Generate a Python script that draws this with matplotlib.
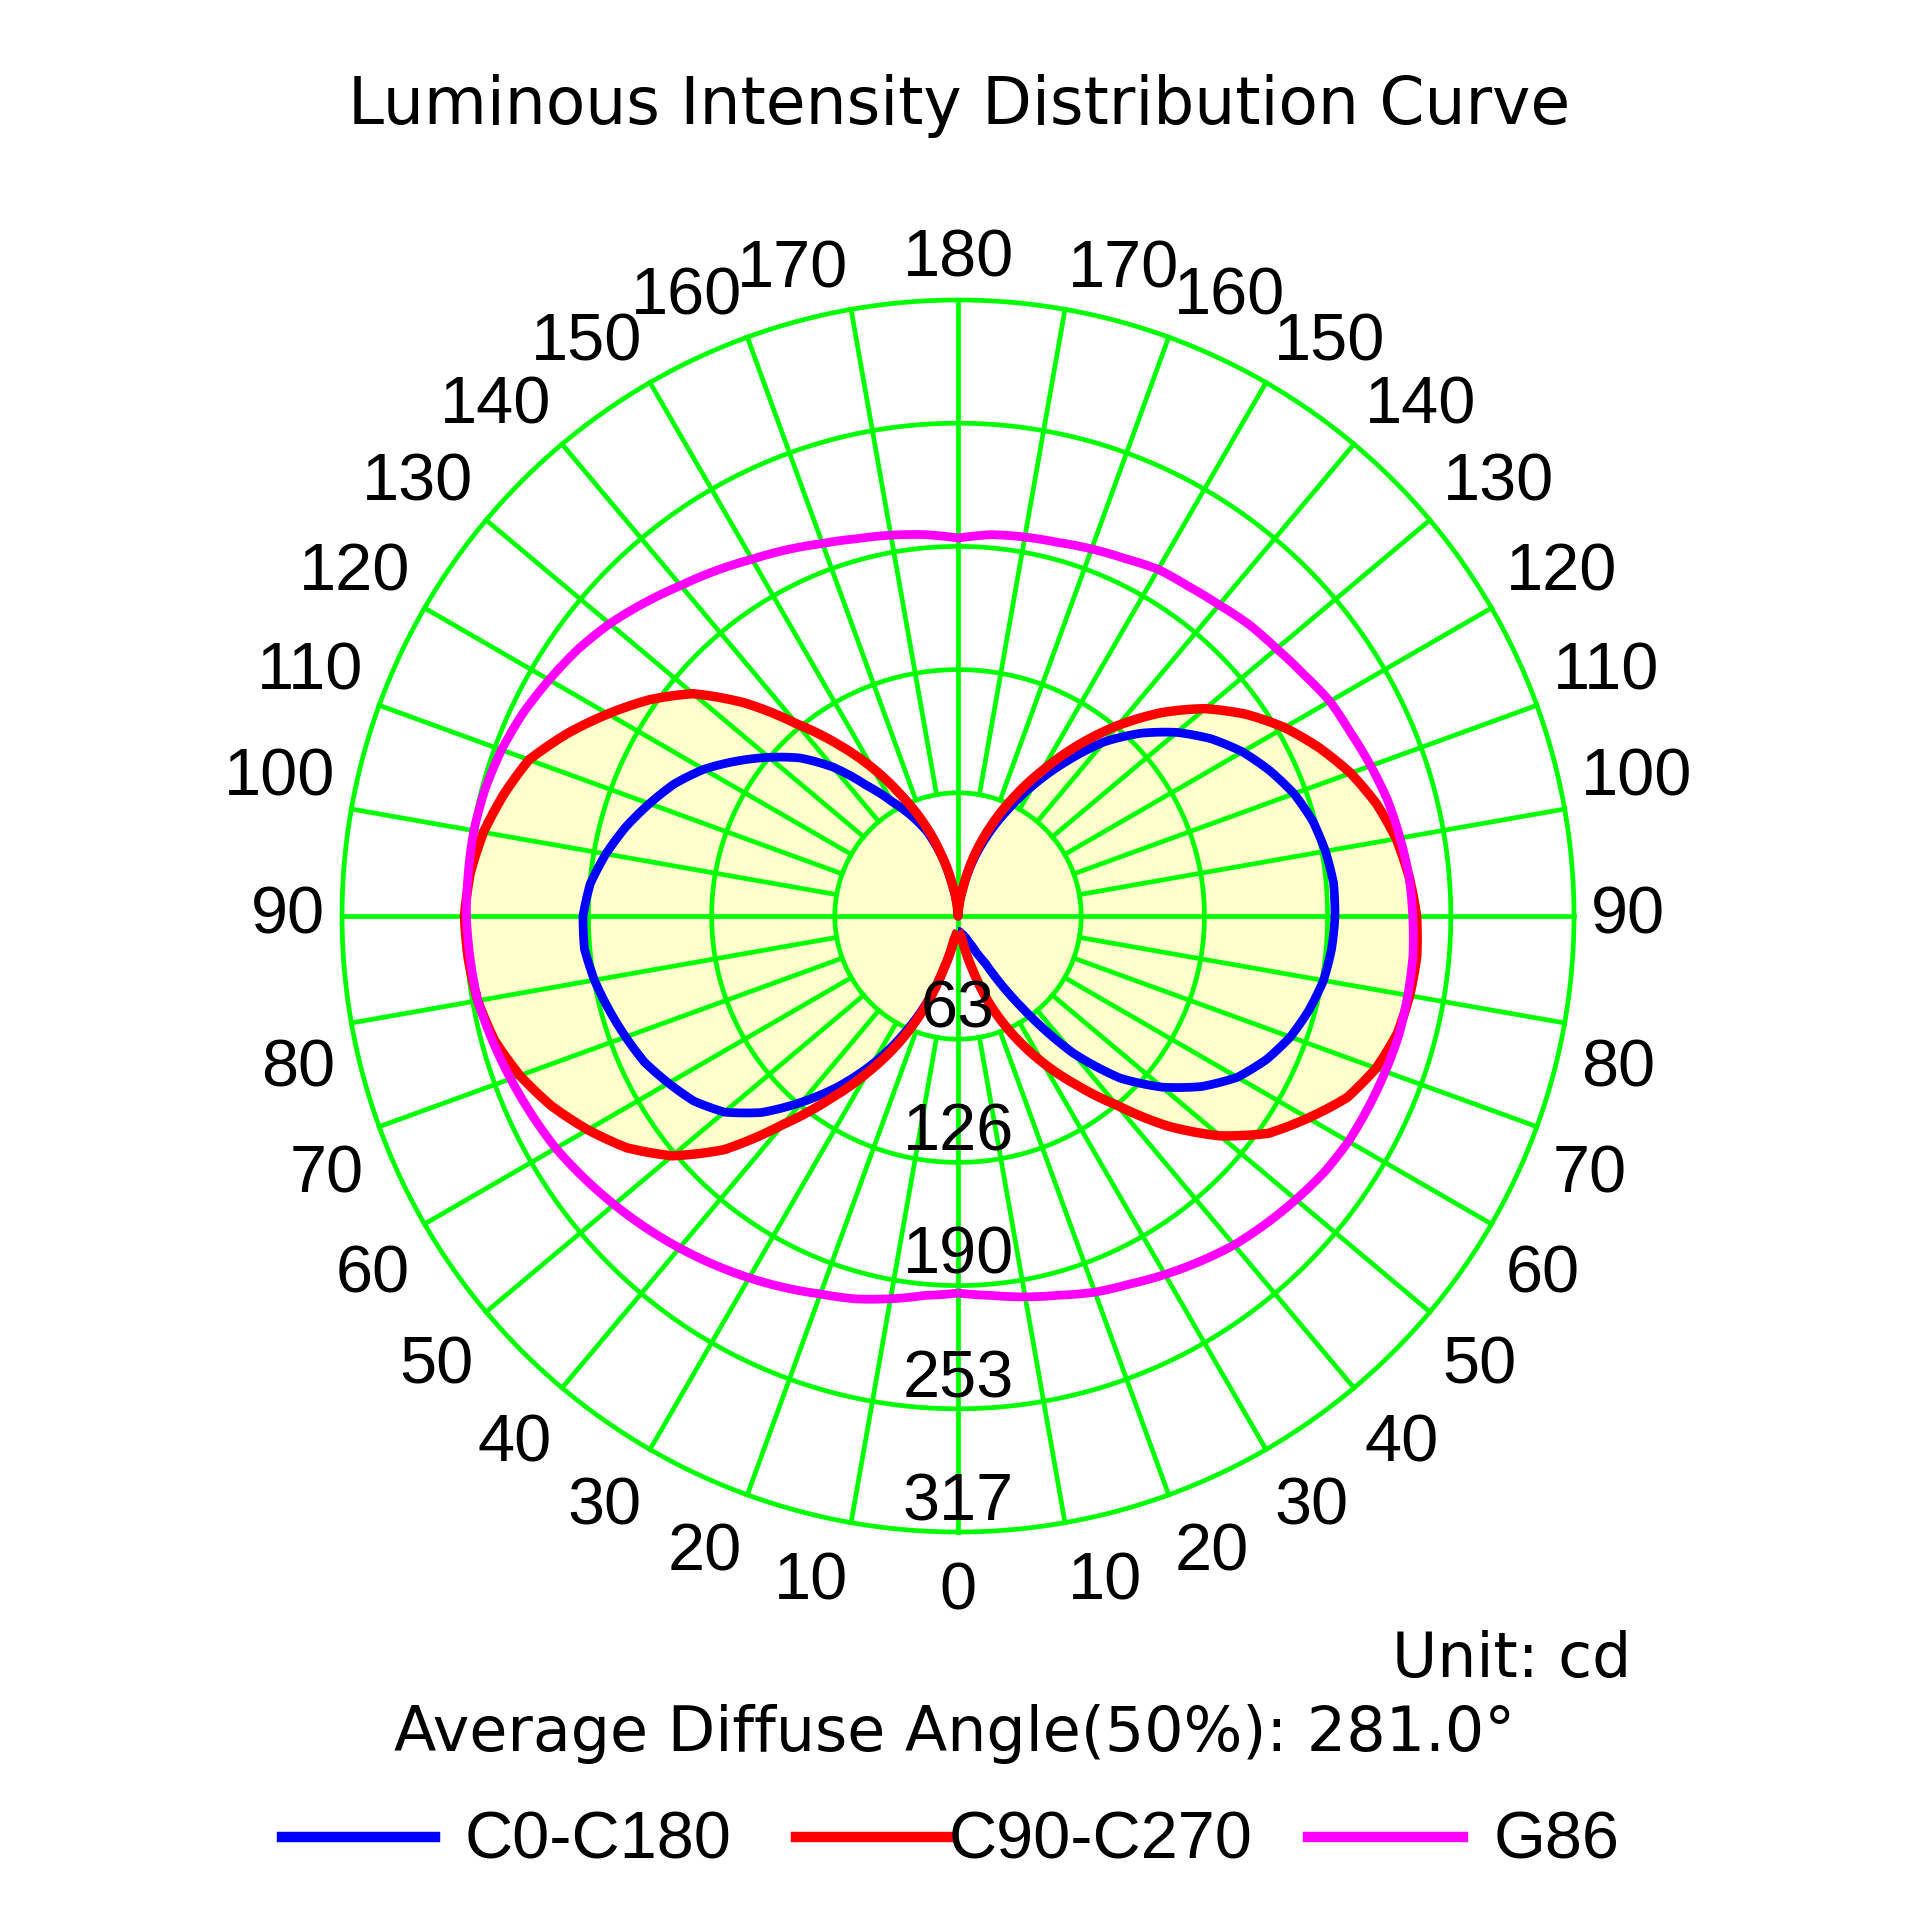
import numpy as np
import matplotlib.pyplot as plt
from matplotlib.lines import Line2D
from matplotlib.path import Path
from matplotlib.patches import PathPatch

plt.rcParams['font.family'] = ['Liberation Sans', 'DejaVu Sans']

# gamma angle in degrees, 0 = straight down, 180 = straight up
gamma = list(range(0, 181, 5))

# C0-C180 plane (cd): C0 on the right half, C180 on the left half
c0 = [8, 8, 9, 10, 12, 17, 28, 58, 92, 118, 137, 153, 166, 175, 182, 187, 191, 193, 194,
      194, 192, 189, 184, 177, 169, 159, 147, 133, 117, 97, 78, 60, 44, 29, 14, 5, 0]
c180 = [8, 9, 13, 27, 48, 68, 88, 107, 125, 143, 157, 166, 172, 178, 182, 186, 190, 193, 193,
        190, 184, 177, 169, 161, 151, 139, 127, 115, 100, 82, 68, 57, 46, 31, 15, 5, 0]

# C90-C270 plane (cd): C90 on the right half, C270 on the left half
c90 = [8, 9, 12, 28, 49, 68, 87, 106, 127, 153, 176, 195, 208, 221, 229, 234, 236, 237, 236,
       233, 229, 223, 215, 205, 194, 181, 166, 148, 128, 107, 86, 67, 49, 32, 15, 5, 0]
c270 = [8, 9, 13, 28, 50, 72, 93, 115, 140, 170, 192, 208, 220, 231, 240, 247, 251, 253, 254,
        252, 248, 242, 235, 222, 208, 194, 178, 155, 129, 108, 88, 68, 50, 32, 16, 6, 0]

# cone at gamma 86: C angle (0 = bottom, 90 = right, 180 = top, 270 = left)
c_angle = list(range(0, 360, 5))
g86 = [194, 196, 199, 202, 206, 209, 213, 217, 221, 224, 227, 230, 232, 233, 234, 235, 235, 235,
       234, 233, 231, 229, 226, 223, 221, 217, 214, 212, 209, 207, 206, 203, 201, 199, 198, 197,
       194.5, 197, 199, 201, 204, 208, 212, 217, 222, 228, 234, 239, 243, 247, 250, 252, 253, 253,
       253, 252, 251, 248, 245, 242, 239, 235, 231, 227, 223, 219, 215, 211, 207, 204, 200, 196]

ring_values = [63.4, 126.8, 190.2, 253.6, 317.0]
ring_labels = ['63', '126', '190', '253', '317']
angle_labels = list(range(0, 181, 10))
max_cd = 317.0

GRID = '#00FF00'
FILL = '#FFFFCC'
FS = 48
TEXT_FONT = ['DejaVu Sans']

fig = plt.figure(figsize=(19.2, 19.2), dpi=100)
ax = fig.add_axes([0.17813, 0.20208, 0.64167, 0.64167], projection='polar')
ax.set_theta_zero_location('S')
ax.set_theta_direction(1)
ax.grid(False)
ax.set_xticks([])
ax.set_yticks([])
ax.spines['polar'].set_visible(False)
ax.patch.set_alpha(0)

g = np.radians(gamma)


def closed(right, left):
    # right half goes bottom -> top, left half comes back top -> bottom
    th = np.concatenate([g, 2 * np.pi - g[::-1]])
    r = np.concatenate([right, left[::-1]])
    return th, r


def polar_patch(th, r, **kw):
    # segments between measured points are drawn as polar spirals
    p = Path(np.column_stack([th, r]), _interpolation_steps=12)
    patch = PathPatch(p, transform=ax.transData, clip_on=False, **kw)
    ax.add_patch(patch)
    return patch


th_b, r_b = closed(np.array(c0), np.array(c180))
th_r, r_r = closed(np.array(c90), np.array(c270))
th_m = np.radians(c_angle + [360])
r_m = np.array(g86 + [g86[0]])

# yellow area under the C-plane curves
polar_patch(th_r, r_r, facecolor=FILL, edgecolor='none', lw=0, zorder=1)
polar_patch(th_b, r_b, facecolor=FILL, edgecolor='none', lw=0, zorder=1)

# grid: rings and spokes every 10 degrees
circ = np.linspace(0, 2 * np.pi, 721)
for rv in ring_values:
    ax.plot(circ, np.full_like(circ, rv), color=GRID, lw=3.4, zorder=2, clip_on=False)
for a in range(0, 360, 10):
    t = np.radians(a)
    r0 = 0 if a % 90 == 0 else ring_values[0]
    ax.plot([t, t], [r0, max_cd], color=GRID, lw=3.4, zorder=2, clip_on=False)

# curves
polar_patch(th_b, r_b, facecolor='none', edgecolor='#0000FF', lw=6.3, zorder=3,
            joinstyle='round')
polar_patch(th_r, r_r, facecolor='none', edgecolor='#FF0000', lw=6.8, zorder=4,
            joinstyle='round')
polar_patch(th_m, r_m, facecolor='none', edgecolor='#FF00FF', lw=6.3, zorder=5,
            joinstyle='round')

ax.set_ylim(0, max_cd)

# ring values below the centre
for rv, lbl in zip(ring_values, ring_labels):
    ax.text(0, rv - 6, lbl, ha='center', va='baseline', fontsize=FS, zorder=6)

# gamma labels around the outside
label_r = 325.5
for a in angle_labels:
    sides = [1] if a in (0, 180) else [1, -1]
    for s in sides:
        t = np.radians(a) if s == 1 else 2 * np.pi - np.radians(a)
        if a == 0:
            ha, va, dy = 'center', 'top', -9
        elif a == 180:
            ha, va, dy = 'center', 'baseline', 5
        else:
            ha = 'left' if s == 1 else 'right'
            if a == 90:
                va, dy = 'center', 0
            elif a > 90:
                va, dy = 'baseline', 3.5 + 4 * np.sin(np.radians(a))
            else:
                va, dy = 'top', -9
        ax.annotate(str(a), xy=(t, label_r), xytext=(0, dy), textcoords='offset points',
                    ha=ha, va=va, fontsize=FS, annotation_clip=False)

fig.text(0.4995, 0.9354, 'Luminous Intensity Distribution Curve', ha='center', va='baseline',
         fontsize=46.5, family=TEXT_FONT)
fig.text(0.8495, 0.1266, 'Unit: cd', ha='right', va='baseline', fontsize=44.5, family=TEXT_FONT)
fig.text(0.4974, 0.0880, 'Average Diffuse Angle(50%): 281.0°', ha='center', va='baseline',
         fontsize=44.6, family=TEXT_FONT)

# legend drawn by hand
legend_items = [('C0-C180', '#0000FF', 282, 435, 465),
                ('C90-C270', '#FF0000', 796, 949, 949),
                ('G86', '#FF00FF', 1308, 1463, 1494)]
for name, col, x0, x1, xt in legend_items:
    fig.add_artist(Line2D([x0 / 1920, x1 / 1920], [0.0432, 0.0432], color=col, lw=7.5,
                          transform=fig.transFigure))
    fig.text(xt / 1920, 0.0318, name, ha='left', va='baseline', fontsize=FS)

fig.savefig('out.png', dpi=100, facecolor='white')
